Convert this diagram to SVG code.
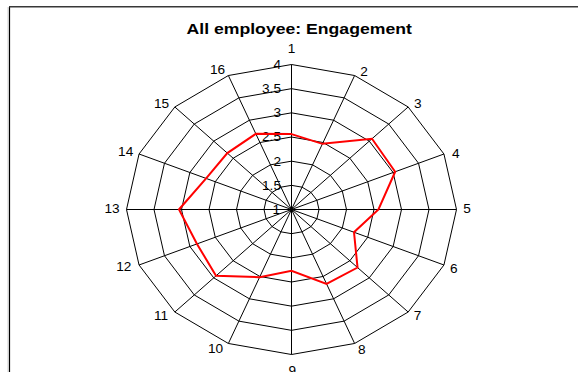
<svg xmlns="http://www.w3.org/2000/svg" width="578" height="372" viewBox="0 0 578 372">
<style>
.ring{fill:none;stroke:#000;stroke-width:1}
.spoke{stroke:#000;stroke-width:1}
.series{fill:none;stroke:#ff0000;stroke-width:2;stroke-linejoin:miter}
.lbl{font-family:"Liberation Sans",Arial,sans-serif;font-size:12px;fill:#000}
.cat{text-anchor:middle}
.ax{text-anchor:end}
.title{font-family:"Liberation Sans",Arial,sans-serif;font-size:15.5px;font-weight:bold;fill:#000;text-anchor:middle}
</style>
<rect width="578" height="372" fill="#fff"/>
<g id="frame">
<line x1="8" y1="7" x2="8" y2="372" stroke="#d0d0d0" stroke-width="1"/>
<line x1="9.5" y1="7" x2="9.5" y2="372" stroke="#000" stroke-width="1.2"/>
<line x1="9" y1="6.75" x2="578" y2="6.75" stroke="#383838" stroke-width="1.5"/>
</g>
<text id="title" class="title" transform="translate(299.2,33.5) scale(1.138,1)">All employee: Engagement</text>
<g id="grid" transform="translate(291.5,209.5)">
<polygon class="ring" points="0,-145 63.14,-133.97 116.67,-102.53 152.44,-55.49 165,0 152.44,55.49 116.67,102.53 63.14,133.97 0,145 -63.14,133.97 -116.67,102.53 -152.44,55.49 -165,0 -152.44,-55.49 -116.67,-102.53 -63.14,-133.97"/>
<polygon class="ring" points="0,-120.83 52.62,-111.64 97.23,-85.44 127.03,-46.24 137.5,0 127.03,46.24 97.23,85.44 52.62,111.64 0,120.83 -52.62,111.64 -97.23,85.44 -127.03,46.24 -137.5,0 -127.03,-46.24 -97.23,-85.44 -52.62,-111.64"/>
<polygon class="ring" points="0,-96.67 42.09,-89.31 77.78,-68.35 101.63,-36.99 110,0 101.63,36.99 77.78,68.35 42.09,89.31 0,96.67 -42.09,89.31 -77.78,68.35 -101.63,36.99 -110,0 -101.63,-36.99 -77.78,-68.35 -42.09,-89.31"/>
<polygon class="ring" points="0,-72.5 31.57,-66.99 58.34,-51.27 76.22,-27.75 82.5,0 76.22,27.75 58.34,51.27 31.57,66.99 0,72.5 -31.57,66.99 -58.34,51.27 -76.22,27.75 -82.5,0 -76.22,-27.75 -58.34,-51.27 -31.57,-66.99"/>
<polygon class="ring" points="0,-48.33 21.05,-44.66 38.89,-34.18 50.81,-18.5 55,0 50.81,18.5 38.89,34.18 21.05,44.66 0,48.33 -21.05,44.66 -38.89,34.18 -50.81,18.5 -55,0 -50.81,-18.5 -38.89,-34.18 -21.05,-44.66"/>
<polygon class="ring" points="0,-24.17 10.52,-22.33 19.45,-17.09 25.41,-9.25 27.5,0 25.41,9.25 19.45,17.09 10.52,22.33 0,24.17 -10.52,22.33 -19.45,17.09 -25.41,9.25 -27.5,0 -25.41,-9.25 -19.45,-17.09 -10.52,-22.33"/>
<line class="spoke" x1="0" y1="-145" x2="0" y2="145"/>
<line class="spoke" x1="63.14" y1="-133.97" x2="-63.14" y2="133.97"/>
<line class="spoke" x1="116.67" y1="-102.53" x2="-116.67" y2="102.53"/>
<line class="spoke" x1="152.44" y1="-55.49" x2="-152.44" y2="55.49"/>
<line class="spoke" x1="-165" y1="0" x2="165" y2="0"/>
<line class="spoke" x1="152.44" y1="55.49" x2="-152.44" y2="-55.49"/>
<line class="spoke" x1="116.67" y1="102.53" x2="-116.67" y2="-102.53"/>
<line class="spoke" x1="63.14" y1="133.97" x2="-63.14" y2="-133.97"/>
</g>
<g id="axis-labels" class="lbl ax">
<text transform="translate(281,69.3) scale(1.138,1)">4</text>
<text transform="translate(281,93) scale(1.138,1)">3.5</text>
<text transform="translate(281,117.1) scale(1.138,1)">3</text>
<text transform="translate(281,141.3) scale(1.138,1)">2.5</text>
<text transform="translate(281,165.5) scale(1.138,1)">2</text>
<text transform="translate(281,189.6) scale(1.138,1)">1.5</text>
<text transform="translate(280,213.8) scale(1.138,1)">1</text>
</g>
<g id="series" transform="translate(291.5,209.5)">
<polygon class="series" points="0,-75.4 30.94,-65.65 80.5,-70.75 103.66,-37.73 86.96,0 62.5,22.75 66.04,58.03 35.04,74.35 0,61.19 -31.89,67.65 -75.49,66.34 -94.51,34.4 -112.53,0 -85.37,-31.07 -64.17,-56.39 -35.67,-75.69"/>
</g>
<g id="category-labels" class="lbl cat">
<text transform="translate(291.5,53.3) scale(1.138,1)">1</text>
<text transform="translate(364,76) scale(1.138,1)">2</text>
<text transform="translate(417.8,107.7) scale(1.138,1)">3</text>
<text transform="translate(455.7,158.3) scale(1.138,1)">4</text>
<text transform="translate(467,213.3) scale(1.138,1)">5</text>
<text transform="translate(453.8,273) scale(1.138,1)">6</text>
<text transform="translate(417.5,320) scale(1.138,1)">7</text>
<text transform="translate(361.8,353.7) scale(1.138,1)">8</text>
<text transform="translate(292.2,375.3) scale(1.138,1)">9</text>
<text transform="translate(215.5,353) scale(1.138,1)">10</text>
<text transform="translate(161,319.7) scale(1.138,1)">11</text>
<text transform="translate(123.8,270.7) scale(1.138,1)">12</text>
<text transform="translate(112,213.3) scale(1.138,1)">13</text>
<text transform="translate(125.7,156) scale(1.138,1)">14</text>
<text transform="translate(161.5,107.7) scale(1.138,1)">15</text>
<text transform="translate(217.5,74.3) scale(1.138,1)">16</text>
</g>
</svg>
